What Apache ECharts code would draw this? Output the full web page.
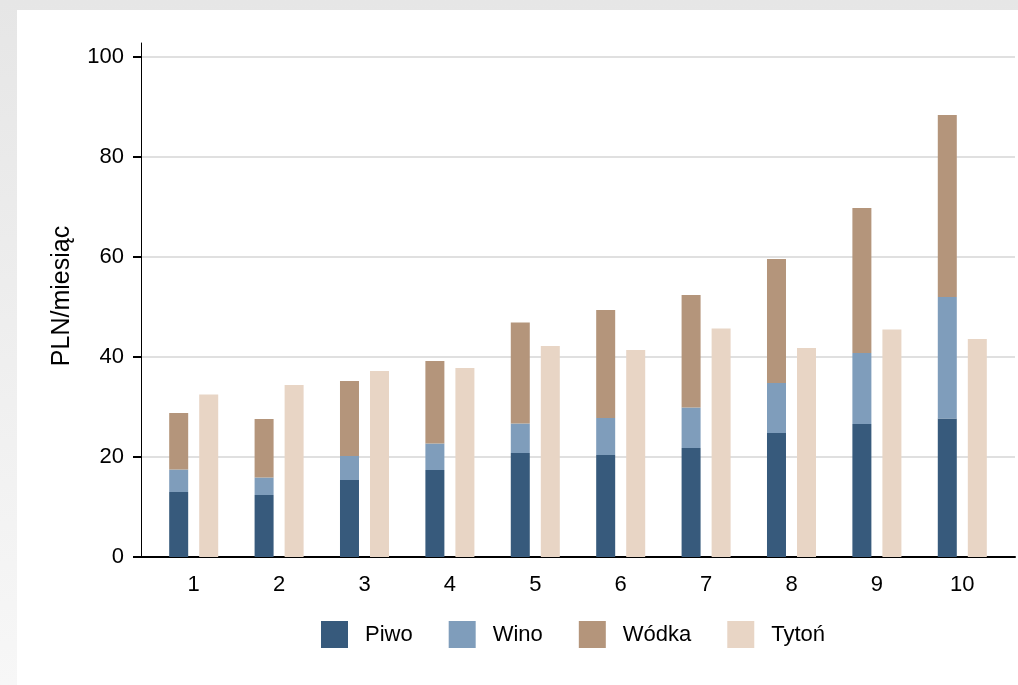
<!DOCTYPE html>
<html><head><meta charset="utf-8">
<script src="https://cdn.jsdelivr.net/npm/echarts@6/dist/echarts.min.js"></script>
<style>
html,body{margin:0;padding:0;width:1018px;height:685px;overflow:hidden;background:linear-gradient(#e6e6e6,#f7f7f7);}
#panel{position:absolute;left:17px;top:10px;right:0;bottom:0;background:#fff;}
#chart{position:absolute;left:0;top:0;width:1018px;height:685px;}
</style></head>
<body><div id="panel"></div><div id="chart"></div>
<script>
const categories = ['1','2','3','4','5','6','7','8','9','10'];
const piwo  = [13.0, 12.4, 15.4, 17.4, 20.8, 20.4, 21.8, 24.8, 26.6, 27.7];
const wino  = [4.5, 3.5, 4.8, 5.3, 5.9, 7.4, 8.1, 10.0, 14.2, 24.3];
const wodka = [11.3, 11.7, 15.0, 16.5, 20.2, 21.6, 22.5, 24.8, 29.0, 36.4];
const tyton = [32.5, 34.4, 37.2, 37.8, 42.2, 41.4, 45.7, 41.8, 45.5, 43.6];
const yTicks = [0, 20, 40, 60, 80, 100];

const FONT = 'Liberation Sans, Arial, sans-serif';
const FS = 22;
const chart = echarts.init(document.getElementById('chart'), null, {renderer:'canvas'});
const barW = 19;
chart.setOption({
  backgroundColor: 'transparent',
  animation: false,
  textStyle: {fontFamily: FONT, color: '#000'},
  grid: [
    {left: 141, right: 3, top: 57, height: 500},
    {left: 151, right: 13, top: 57, height: 500},
    {left: 141, right: 3, top: 43, height: 514}
  ],
  xAxis: [
    {gridIndex: 0, type: 'value', min: 0, max: 1, axisLine: {show: true, lineStyle: {color: '#000', width: 2}}, axisTick: {show: false}, axisLabel: {show: false}, splitLine: {show: false}},
    {gridIndex: 1, type: 'category', data: categories, axisLine: {show: false}, axisTick: {show: false},
     axisLabel: {fontSize: FS, color: '#000', margin: 17, fontFamily: FONT}},
    {gridIndex: 2, type: 'value', show: false}
  ],
  yAxis: [
    {gridIndex: 0, type: 'value', min: yTicks[0], max: yTicks[yTicks.length-1], interval: 20,
     axisLine: {show: true, lineStyle: {color: '#000', width: 1}},
     axisTick: {show: true, length: 8, lineStyle: {color: '#000', width: 2}},
     axisLabel: {fontSize: FS, color: '#000', margin: 17, fontFamily: FONT},
     splitLine: {show: true, lineStyle: {color: '#e0e0e0', width: 2}}},
    {gridIndex: 1, type: 'value', min: 0, max: 100, show: false},
    {gridIndex: 2, type: 'value', min: 0, max: 1,
     axisLine: {show: true, lineStyle: {color: '#000', width: 1}},
     axisTick: {show: false}, axisLabel: {show: false}, splitLine: {show: false},
     name: 'PLN/miesiąc', nameLocation: 'middle', nameGap: 66,
     nameTextStyle: {fontSize: 25, color: '#000', fontFamily: FONT, padding: [0,0,0,8]}}
  ],
  legend: {
    left: 316, top: 616, itemWidth: 27, itemHeight: 27, itemGap: 36, icon: 'rect',
    textStyle: {fontSize: FS, color: '#000', fontFamily: FONT, padding: [0,0,0,12]},
    data: ['Piwo','Wino','Wódka','Tytoń']
  },
  series: [
    {name: 'Piwo', type: 'bar', xAxisIndex: 1, yAxisIndex: 1, stack: 'a', data: piwo, barWidth: barW, barGap: '58%', itemStyle: {color: '#375a7c'}},
    {name: 'Wino', type: 'bar', xAxisIndex: 1, yAxisIndex: 1, stack: 'a', data: wino, barWidth: barW, itemStyle: {color: '#7f9dbb'}},
    {name: 'Wódka', type: 'bar', xAxisIndex: 1, yAxisIndex: 1, stack: 'a', data: wodka, barWidth: barW, itemStyle: {color: '#b4957b'}},
    {name: 'Tytoń', type: 'bar', xAxisIndex: 1, yAxisIndex: 1, data: tyton, barWidth: barW, barGap: '58%', itemStyle: {color: '#e8d5c5'}}
  ]
});
</script></body></html>
